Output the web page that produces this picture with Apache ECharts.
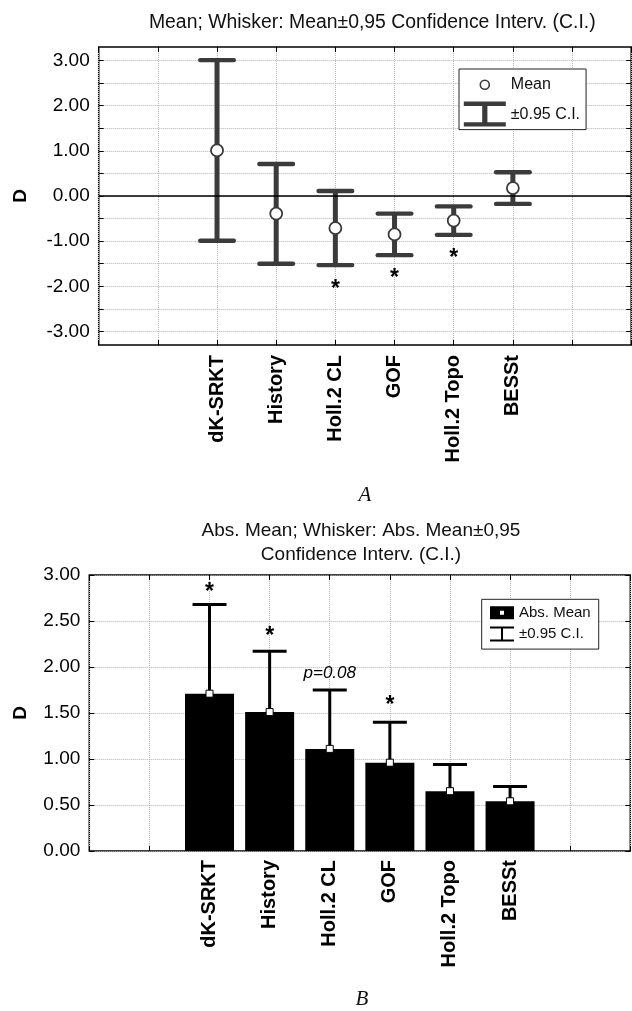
<!DOCTYPE html>
<html><head><meta charset="utf-8">
<script src="https://cdn.jsdelivr.net/npm/echarts@6/dist/echarts.min.js"></script>
<style>html,body{margin:0;padding:0;background:#fff}#c{width:632px;height:1011px}</style>
</head><body><div id="c"></div>
<script>
// ---------- data ----------
const categories = ['dK-SRKT', 'History', 'Holl.2 CL', 'GOF', 'Holl.2 Topo', 'BESSt'];
// Panel A: mean and 0.95 C.I.
const meanD   = [1.01, -0.39, -0.71, -0.85, -0.545, 0.175];
const ciLowD  = [-0.99, -1.50, -1.53, -1.31, -0.86, -0.175];
const ciHighD = [3.01, 0.71, 0.11, -0.39, -0.23, 0.525];
const yTicksA  = [-3, -2.5, -2, -1.5, -1, -0.5, 0, 0.5, 1, 1.5, 2, 2.5, 3];
const yLabelsA = [-3, -2, -1, 0, 1, 2, 3];
const starCatsA = ['Holl.2 CL', 'GOF', 'Holl.2 Topo'];
const starYA    = [-1.99, -1.75, -1.31];
// Panel B: absolute mean and upper 0.95 C.I.
const absMean   = [1.71, 1.51, 1.11, 0.96, 0.65, 0.54];
const absCIHigh = [2.68, 2.17, 1.75, 1.40, 0.94, 0.70];
const starCatsB = ['dK-SRKT', 'History', 'GOF'];
const starYB    = [2.855, 2.37, 1.62];
const noteCatB = 'Holl.2 CL', noteYB = 1.93, noteTextB = 'p=0.08';
const titleA = 'Mean; Whisker: Mean\u00b10,95 Confidence Interv. (C.I.)';
const titleB1 = 'Abs. Mean; Whisker: Abs. Mean\u00b10,95';
const titleB2 = 'Confidence Interv. (C.I.)';
const nameMean = 'Mean', nameCI = '\u00b10.95 C.I.', nameAbs = 'Abs. Mean';

// ---------- helpers ----------
const FF = '"Liberation Sans", Arial, sans-serif';
const CAT0 = 2;                       // first category sits at x = 2 on a 0..9 axis
const catX = name => categories.indexOf(name) + CAT0;
const colA = '#3b3b3b';
const gridLine = {show: true, lineStyle: {color: '#b5b5b5', type: 'dotted', width: 1}};
const tick = {show: true, inside: true, length: 5, lineStyle: {color: '#000', width: 1}};
const noLine = {show: false, onZero: false};

function catLabel(v) {
  const i = Math.round(v) - CAT0;
  return (i >= 0 && i < categories.length) ? categories[i] : '';
}

function xAxes(gridIndex, labelMargin) {
  return [
    {gridIndex, type: 'value', min: 0, max: 9, interval: 1, position: 'bottom',
     axisLine: noLine, axisTick: tick, splitLine: gridLine,
     axisLabel: {rotate: 90, margin: labelMargin, fontSize: 20, fontWeight: 'bold', color: '#000',
                 fontFamily: FF, formatter: catLabel}},
    {gridIndex, type: 'value', min: 0, max: 9, interval: 1, position: 'top',
     axisLine: noLine, axisTick: tick, splitLine: {show: false}, axisLabel: {show: false}}
  ];
}

function starRender() {
  return function (params, api) {
    const p = api.coord([api.value(0), api.value(1)]);
    const txt = api.value(2);
    return {type: 'text', x: p[0], y: p[1] + (txt === '*' ? 4 : 0), style: {
      text: txt, font: api.value(3), align: 'center', verticalAlign: 'middle', fill: '#000'}};
  };
}

const starFont = 'bold 23px ' + FF;
const starDataA = starCatsA.map((c, i) => [catX(c), starYA[i], '*', starFont]);
const starDataB = starCatsB.map((c, i) => [catX(c), starYB[i], '*', starFont])
  .concat([[catX(noteCatB), noteYB, noteTextB, 'italic 17px ' + FF]]);

const ibeamA = 'path://M0,0H42V4.4H23.6V20.6H42V25H0V20.6H18.4V4.4H0Z';
const circleA = 'path://M0,0L0,0M42,25L42,25M16.5,12.5A4.5,4.5,0,1,1,25.5,12.5A4.5,4.5,0,1,1,16.5,12.5Z';
const ibeamB = 'path://M0,0H24V2H13V13H24V15H0V13H11V2H0Z';
const rectB = 'path://M0,0L0,0M24,15L24,15M0,1H24V14H0ZM10,5.5V9.5H14V5.5Z';

const option = {
  animation: false,
  backgroundColor: '#fff',
  textStyle: {fontFamily: FF},
  grid: [
    {left: 98.7, top: 47, width: 532.5, height: 298, show: true, borderColor: '#000', borderWidth: 1.5, backgroundColor: 'transparent'},
    {left: 89.3, top: 575, width: 541, height: 276, show: true, borderColor: '#000', borderWidth: 1.5, backgroundColor: 'transparent'}
  ],
  xAxis: xAxes(0, 10).concat(xAxes(1, 9)),
  yAxis: [
    {gridIndex: 0, type: 'value', min: -3.3, max: 3.3, position: 'left',
     axisLine: noLine, axisTick: Object.assign({customValues: yTicksA}, tick),
     splitLine: gridLine,
     axisLabel: {customValues: yLabelsA, margin: 9, fontSize: 19, color: '#000', fontFamily: FF,
                 formatter: v => v.toFixed(2)},
     name: 'D', nameLocation: 'middle', nameGap: 68, nameRotate: 90,
     nameTextStyle: {fontSize: 19, fontWeight: 'bold', color: '#000', fontFamily: FF}},
    {gridIndex: 0, type: 'value', min: -3.3, max: 3.3, position: 'right',
     axisLine: noLine, axisTick: Object.assign({customValues: yTicksA}, tick),
     splitLine: {show: false}, axisLabel: {show: false}},
    {gridIndex: 1, type: 'value', min: 0, max: 3, interval: 0.5, position: 'left',
     axisLine: noLine, axisTick: tick, splitLine: gridLine,
     axisLabel: {margin: 9, fontSize: 19, color: '#000', fontFamily: FF, formatter: v => v.toFixed(2)},
     name: 'D', nameLocation: 'middle', nameGap: 59, nameRotate: 90,
     nameTextStyle: {fontSize: 19, fontWeight: 'bold', color: '#000', fontFamily: FF}},
    {gridIndex: 1, type: 'value', min: 0, max: 3, interval: 0.5, position: 'right',
     axisLine: noLine, axisTick: tick, splitLine: {show: false}, axisLabel: {show: false}}
  ],
  legend: [
    {orient: 'vertical', left: 459, top: 69, itemWidth: 42, itemHeight: 25, itemGap: 3.5,
     padding: [2.5, 6, 3, 4], borderColor: '#222', borderWidth: 1, backgroundColor: '#fff',
     selectedMode: false, textStyle: {fontSize: 16, color: '#111', fontFamily: FF},
     data: [
       {name: nameMean, icon: circleA, itemStyle: {color: '#fff', borderColor: colA, borderWidth: 1.6}},
       {name: nameCI, icon: ibeamA, itemStyle: {color: colA, borderWidth: 0}}
     ]},
    {orient: 'vertical', left: 481.7, top: 599.3, itemWidth: 24, itemHeight: 15, itemGap: 6.3,
     padding: [6, 8, 7.5, 8.3], borderColor: '#222', borderWidth: 1, backgroundColor: '#fff',
     selectedMode: false, textStyle: {fontSize: 15, color: '#111', fontFamily: FF},
     data: [
       {name: nameAbs, icon: rectB, itemStyle: {color: '#000', borderWidth: 0}},
       {name: nameCI, icon: ibeamB, itemStyle: {color: '#000', borderWidth: 0}}
     ]}
  ],
  graphic: [
    {type: 'text', x: 372.3, y: 22.7, style: {text: titleA, font: '19.4px ' + FF, fill: '#111', align: 'center', verticalAlign: 'middle'}},
    {type: 'text', x: 361, y: 531, style: {text: titleB1, font: '19px ' + FF, fill: '#111', align: 'center', verticalAlign: 'middle'}},
    {type: 'text', x: 361, y: 555, style: {text: titleB2, font: '19px ' + FF, fill: '#111', align: 'center', verticalAlign: 'middle'}},
    {type: 'text', x: 365, y: 495, style: {text: 'A', font: 'italic 21px "Liberation Serif", serif', fill: '#111', align: 'center', verticalAlign: 'middle'}},
    {type: 'text', x: 362, y: 999, style: {text: 'B', font: 'italic 21px "Liberation Serif", serif', fill: '#111', align: 'center', verticalAlign: 'middle'}}
  ],
  series: [
    {type: 'custom', name: nameCI, xAxisIndex: 0, yAxisIndex: 0, z: 3,
     itemStyle: {color: colA},
     data: categories.map((c, i) => [i + CAT0, ciLowD[i], ciHighD[i]]),
     encode: {x: 0, y: [1, 2]},
     renderItem(params, api) {
       const x = api.value(0);
       const lo = api.coord([x, api.value(1)]), hi = api.coord([x, api.value(2)]);
       const hw = 16.8;
       const cap = {stroke: colA, lineWidth: 4.4, lineCap: 'round'};
       return {type: 'group', children: [
         {type: 'line', shape: {x1: hi[0], y1: hi[1], x2: lo[0], y2: lo[1]}, style: {stroke: colA, lineWidth: 5}},
         {type: 'line', shape: {x1: hi[0] - hw, y1: hi[1], x2: hi[0] + hw, y2: hi[1]}, style: cap},
         {type: 'line', shape: {x1: lo[0] - hw, y1: lo[1], x2: lo[0] + hw, y2: lo[1]}, style: cap}
       ]};
     },
     markLine: {silent: true, symbol: 'none', label: {show: false},
                lineStyle: {color: '#000', width: 1.6, type: 'solid'},
                data: [{yAxis: 0}]}},
    {type: 'scatter', name: nameMean, xAxisIndex: 0, yAxisIndex: 0, z: 4,
     symbol: 'circle', symbolSize: 12,
     itemStyle: {color: '#fff', borderColor: colA, borderWidth: 1.8, opacity: 1},
     data: categories.map((c, i) => [i + CAT0, meanD[i]])},
    {type: 'custom', name: 'starsA', xAxisIndex: 0, yAxisIndex: 0, z: 5,
     data: starDataA, renderItem: starRender()},
    {type: 'bar', name: nameAbs, xAxisIndex: 2, yAxisIndex: 2, z: 2, barWidth: 49,
     itemStyle: {color: '#000'},
     data: categories.map((c, i) => [i + CAT0, absMean[i]])},
    {type: 'custom', name: nameCI, xAxisIndex: 2, yAxisIndex: 2, z: 3,
     itemStyle: {color: '#000'},
     data: categories.map((c, i) => [i + CAT0, absMean[i], absCIHigh[i]]),
     encode: {x: 0, y: [1, 2]},
     renderItem(params, api) {
       const x = api.value(0);
       const lo = api.coord([x, api.value(1)]), hi = api.coord([x, api.value(2)]);
       const hw = 17;
       return {type: 'group', children: [
         {type: 'line', shape: {x1: hi[0], y1: hi[1], x2: lo[0], y2: lo[1]}, style: {stroke: '#000', lineWidth: 3}},
         {type: 'line', shape: {x1: hi[0] - hw, y1: hi[1], x2: hi[0] + hw, y2: hi[1]}, style: {stroke: '#000', lineWidth: 3}}
       ]};
     }},
    {type: 'scatter', name: 'absMarker', xAxisIndex: 2, yAxisIndex: 2, z: 4,
     symbol: 'rect', symbolSize: 7,
     itemStyle: {color: '#fff', borderColor: '#000', borderWidth: 1, opacity: 1},
     data: categories.map((c, i) => [i + CAT0, absMean[i]])},
    {type: 'custom', name: 'starsB', xAxisIndex: 2, yAxisIndex: 2, z: 5,
     data: starDataB, renderItem: starRender()}
  ]
};
echarts.init(document.getElementById('c'), null, {renderer: 'canvas'}).setOption(option);
</script></body></html>
